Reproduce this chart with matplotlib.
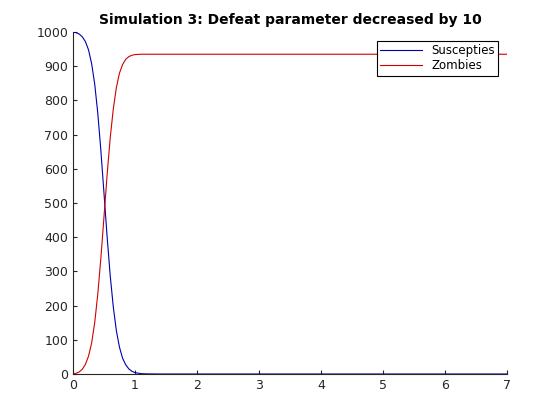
import matplotlib
matplotlib.use("Agg")
import matplotlib.pyplot as plt
import numpy as np

t = [0, 0.05, 0.1, 0.15, 0.2, 0.25, 0.3, 0.35, 0.4, 0.45, 0.5, 0.55, 0.6, 0.65, 0.7, 0.75, 0.8, 0.85, 0.9, 0.95, 1.0, 1.1, 1.2, 1.4, 2, 3, 4, 5, 6, 7]
S = [1000, 998, 994, 986, 972, 948, 908, 848, 762, 652, 528, 402, 288, 196, 126, 78, 46, 27, 15, 8, 4, 1, 0.3, 0, 0, 0, 0, 0, 0, 0]
Z = [0, 2, 6, 14, 28, 52, 90, 150, 234, 340, 460, 582, 690, 775, 838, 880, 905, 920, 928, 932, 934, 935, 935, 935, 935, 935, 935, 935, 935, 935]

fig = plt.figure(figsize=(5.6, 4.2), dpi=100)
ax = fig.add_axes([73/560, 1-374/420, 434/560, 342/420])
ax.plot(t, S, color='#0000b0', lw=0.8, label='Suscepties')
ax.plot(t, Z, color='#d00000', lw=0.8, label='Zombies')
ax.set_xlim(0, 7)
ax.set_ylim(0, 1000)
ax.set_xticks(range(8))
ax.set_yticks(range(0, 1001, 100))
for s in ['top', 'right']:
    ax.spines[s].set_visible(False)
for s in ['left', 'bottom']:
    ax.spines[s].set_color('#262626')
ax.tick_params(direction='in', labelsize=9, colors='#262626', length=3)
ax.set_title('Simulation 3: Defeat parameter decreased by 10', fontsize=10, fontweight='bold')
leg = ax.legend(loc='upper right', bbox_to_anchor=(0.98, 0.975), fontsize=8.5, fancybox=False,
                framealpha=1, edgecolor='black', borderpad=0.3, handlelength=3.5, labelspacing=0.2, borderaxespad=0)
leg.get_frame().set_linewidth(0.8)
fig.savefig('out.png')
